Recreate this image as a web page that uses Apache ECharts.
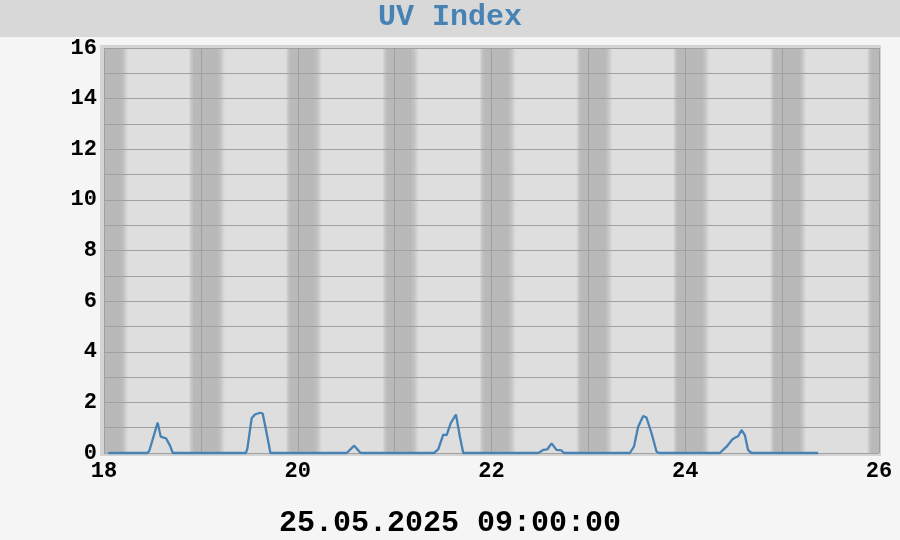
<!DOCTYPE html>
<html>
<head>
    <meta charset="utf-8">
    <title>UV Index</title>
    <script src="https://cdn.jsdelivr.net/npm/echarts@6/dist/echarts.min.js"></script>
    <style>
        html, body { margin: 0; padding: 0; background: #f5f5f5; }
        #chart { width: 900px; height: 540px; }
    </style>
</head>
<body>
<div id="chart"></div>
<script>
    // UV-Werte, Zeit als Tag des Monats (Dezimal)
    const uvTime = [18.044,
        18.447, 18.467, 18.554, 18.585, 18.64, 18.68, 18.71,
        19.465, 19.48, 19.524, 19.558, 19.61, 19.638, 19.679, 19.718,
        20.505, 20.583, 20.649,
        21.405, 21.45, 21.502, 21.537, 21.578, 21.633, 21.674, 21.708,
        22.482, 22.534, 22.575, 22.62, 22.672, 22.723, 22.747,
        23.428, 23.47, 23.514, 23.566, 23.6, 23.652, 23.704, 23.731,
        24.357, 24.426, 24.488, 24.522, 24.546, 24.581, 24.615, 24.649, 24.684,
        25.372];
    const uvValue = [0,
        0, 0.08, 1.2, 0.65, 0.58, 0.3, 0,
        0, 0.18, 1.37, 1.52, 1.59, 1.56, 0.78, 0,
        0, 0.29, 0,
        0, 0.14, 0.73, 0.71, 1.17, 1.52, 0.64, 0,
        0, 0.12, 0.14, 0.38, 0.12, 0.1, 0,
        0, 0.25, 1.04, 1.46, 1.4, 0.78, 0.05, 0,
        0, 0.25, 0.54, 0.62, 0.66, 0.91, 0.71, 0.11, 0,
        0];

    const xLabels = [18, 20, 22, 24, 26];
    const yLabels = [0, 2, 4, 6, 8, 10, 12, 14, 16];

    // Nacht: Tage, Dämmerung (Anteil vom Tag relativ zur Mitternacht)
    const nightDays = [18, 19, 20, 21, 22, 23, 24, 25, 26];
    const duskStart = -0.125, darkStart = -0.085, dawnStart = 0.185, dawnEnd = 0.25;

    const X_MIN = 18, X_MAX = 26, Y_MIN = 0, Y_MAX = 16;
    const LIGHT = '#dedede', DARK = '#b9b9b9';
    const FONT = '"Liberation Mono", "Courier New", monospace';

    function grad(from, to) {
        return new echarts.graphic.LinearGradient(0, 0, 1, 0, [
            { offset: 0, color: from },
            { offset: 1, color: to }
        ]);
    }

    // Hintergrund der Zeichenfläche + Nachtstreifen
    const bgAreas = [[
        { xAxis: X_MIN, yAxis: Y_MIN, itemStyle: { color: LIGHT } },
        { xAxis: X_MAX, yAxis: Y_MAX }
    ]];
    nightDays.forEach(function (d) {
        const segs = [
            [d + duskStart, d + darkStart, grad(LIGHT, DARK)],
            [d + darkStart, d + dawnStart, DARK],
            [d + dawnStart, d + dawnEnd, grad(DARK, LIGHT)]
        ];
        segs.forEach(function (s) {
            const a = Math.max(s[0], X_MIN), b = Math.min(s[1], X_MAX);
            if (b <= a) return;
            bgAreas.push([
                { xAxis: a, itemStyle: { color: s[2] } },
                { xAxis: b }
            ]);
        });
    });

    const chart = echarts.init(document.getElementById('chart'));
    chart.setOption({
        backgroundColor: '#f5f5f5',
        animation: false,
        graphic: [
            { type: 'rect', z: -10, shape: { x: 0, y: 0, width: 900, height: 37 }, style: { fill: '#d8d8d8' } },
            { type: 'rect', z: -10, shape: { x: 100, y: 45, width: 781, height: 411 }, style: { fill: '#d4d4d4' } }
        ],
        title: [{
            text: 'UV Index',
            left: 'center',
            top: -3,
            textStyle: { color: '#4682b4', fontFamily: FONT, fontWeight: 'bold', fontSize: 30 }
        }, {
            text: '25.05.2025 09:00:00',
            left: 'center',
            top: 503,
            textStyle: { color: '#000', fontFamily: FONT, fontWeight: 'bold', fontSize: 30 }
        }],
        grid: {
            left: 104, right: 21, top: 48, bottom: 87,
            show: false
        },
        xAxis: {
            type: 'value',
            min: X_MIN, max: X_MAX, interval: 1,
            axisLine: { show: false },
            axisTick: { show: false },
            axisLabel: {
                margin: 7,
                color: '#000', fontFamily: FONT, fontWeight: 'bold', fontSize: 22,
                formatter: function (v) { return xLabels.indexOf(v) >= 0 ? String(v) : ''; }
            },
            splitLine: { show: true, lineStyle: { color: '#a0a0a0', width: 1 } }
        },
        yAxis: {
            type: 'value',
            min: Y_MIN, max: Y_MAX, interval: 1,
            axisLine: { show: false },
            axisTick: { show: false },
            axisLabel: {
                margin: 7,
                color: '#000', fontFamily: FONT, fontWeight: 'bold', fontSize: 22,
                formatter: function (v) { return yLabels.indexOf(v) >= 0 ? String(v) : ''; }
            },
            splitLine: { show: true, lineStyle: { color: '#a0a0a0', width: 1 } }
        },
        series: [{
            // nur Hintergrund, unter den Gitterlinien
            type: 'line',
            data: [],
            z: -1,
            silent: true,
            markArea: { silent: true, z: -1, data: bgAreas }
        }, {
            type: 'line',
            data: uvTime.map(function (t, i) { return [t, uvValue[i]]; }),
            showSymbol: false,
            clip: false,
            lineStyle: { color: '#4682b4', width: 2.3 },
            itemStyle: { color: '#4682b4' },
            z: 5
        }]
    });
</script>
</body>
</html>
